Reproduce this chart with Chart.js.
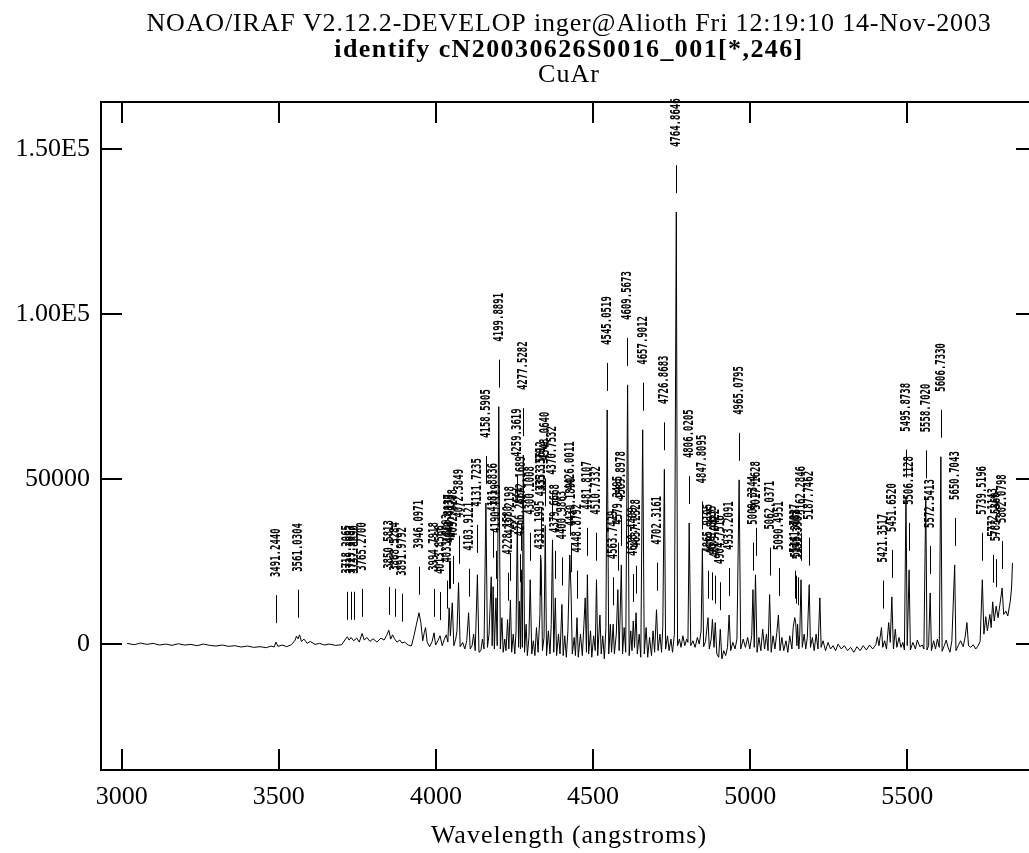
<!DOCTYPE html>
<html>
<head>
<meta charset="utf-8">
<script src="https://cdn.jsdelivr.net/npm/chart.js@4.4.0/dist/chart.umd.min.js"></script>
<style>
    html, body { margin: 0; padding: 0; background: #fff; overflow: hidden; }
</style>
</head>
<body>
<canvas id="spectrum" width="1040" height="853"></canvas>
<script>
// Header lines and axis label
const titleLines = [
    'NOAO/IRAF V2.12.2-DEVELOP inger@Alioth Fri 12:19:10 14-Nov-2003',
    'identify cN20030626S0016_001[*,246]',
    'CuAr'
];
const xLabel = 'Wavelength (angstroms)';

// Axis ranges and ticks
const xMin = 2934, xMax = 5913;
const yMin = -38200, yMax = 164400;
const xTicks = [3000, 3500, 4000, 4500, 5000, 5500];
const xTickLabels = ['3000', '3500', '4000', '4500', '5000', '5500'];
const yTicks = [0, 50000, 100000, 150000];
const yTickLabels = ['0', '50000', '1.00E5', '1.50E5'];

// Spectrum (wavelength in angstroms, counts)
const wave = [
    3017, 3040, 3060, 3080, 3100, 3120, 3140, 3160, 3180, 3200,
    3220, 3240, 3260, 3280, 3300, 3320, 3340, 3360, 3380, 3400,
    3420, 3440, 3460, 3475, 3485, 3491, 3497, 3510, 3525, 3540,
    3552, 3556, 3561, 3566, 3572, 3580, 3590, 3600, 3615, 3630,
    3645, 3660, 3680, 3700, 3712, 3718, 3724, 3730, 3738, 3748,
    3756, 3765, 3772, 3780, 3790, 3800, 3812, 3825, 3835, 3843,
    3850, 3856, 3862, 3868, 3876, 3885, 3892, 3900, 3912, 3922,
    3930, 3938, 3946, 3952, 3958, 3963, 3967, 3972, 3980, 3988,
    3994, 3999, 4006, 4013, 4020, 4027, 4033, 4038, 4042, 4046,
    4052, 4057, 4063, 4067, 4072, 4077, 4085, 4092, 4098, 4104,
    4109, 4115, 4120, 4125, 4132, 4137, 4143, 4148, 4153, 4159,
    4164, 4169, 4176, 4179, 4182, 4186, 4191, 4195, 4200, 4205,
    4210, 4214, 4219, 4223, 4228, 4232, 4237, 4241, 4246, 4251,
    4255, 4259, 4263, 4266, 4269, 4272, 4275, 4278, 4282, 4287,
    4291, 4296, 4300, 4305, 4310, 4315, 4320, 4325, 4331, 4333,
    4335, 4339, 4344, 4348, 4352, 4358, 4363, 4367, 4371, 4375,
    4380, 4384, 4390, 4395, 4401, 4405, 4410, 4415, 4420, 4426,
    4430, 4434, 4440, 4444, 4449, 4453, 4460, 4466, 4471, 4475,
    4479, 4482, 4486, 4492, 4496, 4502, 4507, 4511, 4515, 4522,
    4526, 4531, 4536, 4541, 4545, 4550, 4555, 4559, 4564, 4568,
    4574, 4579, 4583, 4586, 4590, 4594, 4599, 4604, 4610, 4615,
    4620, 4624, 4628, 4632, 4637, 4641, 4647, 4652, 4658, 4663,
    4669, 4674, 4680, 4686, 4691, 4696, 4702, 4707, 4713, 4718,
    4722, 4727, 4731, 4737, 4742, 4748, 4753, 4759, 4765, 4769,
    4775, 4780, 4786, 4792, 4798, 4802, 4806, 4811, 4818, 4825,
    4832, 4838, 4844, 4848, 4852, 4858, 4866, 4870, 4876, 4880,
    4885, 4889, 4894, 4900, 4905, 4910, 4916, 4922, 4928, 4933,
    4938, 4945, 4952, 4958, 4965, 4970, 4978, 4985, 4992, 4999,
    5005, 5009, 5013, 5017, 5022, 5028, 5034, 5040, 5046, 5052,
    5057, 5062, 5067, 5073, 5079, 5085, 5090, 5095, 5101, 5107,
    5114, 5120, 5126, 5133, 5137, 5142, 5145, 5149, 5151, 5155,
    5158, 5162, 5166, 5172, 5177, 5182, 5188, 5192, 5198, 5204,
    5210, 5216, 5222, 5226, 5232, 5240, 5248, 5256, 5264, 5272,
    5280, 5290, 5300, 5310, 5320, 5330, 5340, 5350, 5360, 5370,
    5380, 5390, 5400, 5405, 5410, 5418, 5422, 5428, 5434, 5441,
    5446, 5451, 5456, 5462, 5467, 5474, 5480, 5486, 5491, 5496,
    5500, 5506, 5510, 5518, 5526, 5532, 5540, 5548, 5553, 5559,
    5563, 5568, 5573, 5577, 5584, 5590, 5596, 5602, 5607, 5611,
    5618, 5624, 5630, 5636, 5642, 5651, 5655, 5662, 5670, 5678,
    5684, 5690, 5695, 5702, 5710, 5718, 5726, 5732, 5739, 5744,
    5750, 5755, 5763, 5767, 5772, 5777, 5783, 5789, 5795, 5802,
    5807, 5814, 5820, 5828, 5832, 5835
];
const flux = [
    200, -200, 300, -100, 200, -300, 0, -400, 100, -300,
    -100, -500, 0, -400, -600, -300, -700, -500, -900, -600,
    -1000, -800, -1100, -600, -900, 600, -700, -300, -800, -200,
    1200, 2400, 1600, 2800, 800, 1500, 200, 800, -100, 200,
    -300, 0, -400, -200, 1500, 2200, 1200, 2000, 1000, 1800,
    600, 3200, 1200, 2000, 800, 1600, 600, 1800, 1200, 2600,
    4200, 1500, 2800, 1600, 600, 1200, 300, 600, -300, -600,
    2500, 6000, 9500, 6500, 1000, 3500, 5000, 600, -800, 800,
    3400, -300, 1000, 2500, -500, 1500, 2800, 600, 11000, 2500,
    12500, -500, 1500, 4000, 18600, -800, 500, -1500, 1000, 9500,
    -1500, -500, 3000, -2000, 21000, -2500, -2000, 1500, -1500, 42800,
    -1000, 3000, 20400, -500, 17400, -1500, 14000, -500, 72000, -1500,
    8000, -2500, 1500, -2000, 7400, -1500, 13400, -2500, 3000, -3000,
    4000, 37000, -1000, 13000, -1500, 22500, -1000, 57300, -2500, 6000,
    -3500, 2000, 19500, -3000, 1000, -3500, 5000, -2500, 9000, 27000,
    25000, -2000, 2000, 36000, -3500, 4000, -3000, 6000, 31600, -2500,
    14000, -3500, 3000, -3000, 12000, -3500, 2500, -4000, 4000, 27000,
    16000, -3000, 2000, -3500, 8000, -4000, 3000, -3500, 6000, 14000,
    -2500, 21000, -3000, 4000, -4000, 2500, -2000, 19500, -3500, 8800,
    -3000, 2500, -4500, 5000, 71000, -3000, 6000, -2500, 6000, -3000,
    3000, 16500, -2000, 8000, 24000, -3000, 5000, -2500, 78600, -3500,
    4000, -2000, 7000, -1000, 9500, -3000, 3000, -4000, 65000, -3000,
    5000, -4000, 2000, -3500, 4000, -2500, 10400, -2000, 3000, -2500,
    5000, 53000, -1500, 2500, -2000, 1500, -2500, 3000, 131000, -500,
    1500, -1000, 2500, -500, 1500, 500, 36700, -500, 1000, -1000,
    2000, 0, 4000, 29000, -800, 800, 8000, -1500, 1500, 7500,
    -1000, 6500, -3000, -4000, 4500, -4500, -2000, -3500, -1000, 8800,
    -2000, 500, -1500, 1500, 49800, -1500, 1500, -1000, 2000, -1500,
    2500, 16500, -1000, 21000, -2500, 2000, -2000, 4500, -1500, 3000,
    -2000, 15000, -2500, 2500, -1500, 3500, 8800, -2000, 2000, -2000,
    1000, -2500, 2500, -1500, 5000, 8000, 6500, -500, 6000, -1500,
    3000, 19500, -1000, 3000, -1500, 2000, 18000, -1000, 2000, -2000,
    3000, -1500, 14000, -1000, 1000, -2000, 500, -1500, -500, -2000,
    0, -1500, -500, -2000, -1000, -2500, -800, -2000, -500, -1800,
    -300, -1500, -200, 2200, -500, 5000, -1000, 1000, -1500, 6500,
    500, 14300, -1500, 4500, -1000, 2000, -1000, 500, -1800, 44700,
    -500, 22500, -1800, 500, -1500, 1200, -800, -300, -1500, 44500,
    -1800, -500, 15500, -2000, 1000, -1500, 1500, -1000, 56800, -2200,
    -500, 1200, -1000, -2500, 1000, 24000, -2000, -500, 1000, -800,
    2000, 6500, -500, -1000, -200, -1500, -500, 800, 19500, 3000,
    8300, 4000, 9000, 5000, 12800, 7000, 11500, 8000, 12000, 17000,
    9000, 10000, 8500, 13000, 17000, 24600
];

// Identified lines: wavelength and the count level the marker sits on
const idWave = [
    3491.2440, 3561.0304, 3718.2065, 3729.3087, 3737.8890, 3765.2700, 3850.5813, 3868.5284, 3891.9792, 3946.0971,
    3994.7918, 4013.8566, 4033.8093, 4042.8937, 4044.4179, 4052.9208, 4072.3849, 4103.9121, 4131.7235, 4158.5905,
    4181.8836, 4190.7129, 4199.8891, 4228.1580, 4237.2198, 4259.3619, 4266.2864, 4272.1689, 4277.5282, 4300.1008,
    4331.1995, 4333.5612, 4335.3379, 4348.0640, 4370.7532, 4379.6668, 4400.9863, 4426.0011, 4430.1890, 4448.8792,
    4481.8107, 4510.7332, 4545.0519, 4563.7429, 4579.3495, 4589.8978, 4609.5673, 4628.4409, 4637.2328, 4657.9012,
    4702.3161, 4726.8683, 4764.8646, 4806.0205, 4847.8095, 4865.9105, 4879.8635, 4889.0422, 4904.7516, 4933.2091,
    4965.0795, 5009.3344, 5017.1628, 5062.0371, 5090.4951, 5141.7827, 5145.3083, 5151.3907, 5162.2846, 5187.7462,
    5421.3517, 5451.6520, 5495.8738, 5506.1128, 5558.7020, 5572.5413, 5606.7330, 5650.7043, 5739.5196, 5772.1143,
    5783.5360, 5802.0798
];
const idPeak = [
    600, 2200, 1600, 1600, 1600, 2500, 3100, 2500, 1000, 9200,
    2500, 1500, 5000, 11000, 11000, 12500, 18600, 8600, 21900, 42800,
    20400, 14000, 72000, 7400, 13400, 37000, 13000, 22500, 57300, 19500,
    9000, 27000, 25000, 36000, 31600, 14000, 12000, 27000, 16000, 8000,
    21000, 19500, 71000, 6000, 16500, 24000, 78600, 7000, 9500, 65000,
    10400, 53000, 131000, 36700, 29000, 8000, 7500, 6500, 4500, 8800,
    49800, 16500, 21000, 15000, 8800, 8000, 6500, 6000, 19500, 18000,
    5000, 14300, 44700, 22500, 44500, 15500, 56800, 24000, 19500, 12800,
    11500, 17000
];

const serif = '"Liberation Serif", "Times New Roman", serif';

const irafPlugin = {
    id: 'iraf',
    afterDraw(chart) {
        const { ctx, chartArea: a, scales: { x, y } } = chart;
        ctx.save();
        ctx.strokeStyle = '#000';
        ctx.fillStyle = '#000';

        // frame with inward ticks on all four sides
        ctx.lineWidth = 2;
        ctx.strokeRect(a.left, a.top, a.right - a.left, a.bottom - a.top);
        ctx.beginPath();
        xTicks.forEach(v => {
            const px = Math.round(x.getPixelForValue(v));
            ctx.moveTo(px, a.bottom); ctx.lineTo(px, a.bottom - 21);
            ctx.moveTo(px, a.top); ctx.lineTo(px, a.top + 21);
        });
        yTicks.forEach(v => {
            const py = Math.round(y.getPixelForValue(v));
            ctx.moveTo(a.left, py); ctx.lineTo(a.left + 21, py);
            ctx.moveTo(a.right, py); ctx.lineTo(a.right - 21, py);
        });
        ctx.stroke();

        // line identification markers and labels
        ctx.lineWidth = 1;
        ctx.font = 'bold 9px "DejaVu Sans Mono", monospace';
        ctx.textAlign = 'left';
        ctx.textBaseline = 'middle';
        idWave.forEach((w, i) => {
            const px = Math.round(x.getPixelForValue(w)) + 0.5;
            const py = y.getPixelForValue(idPeak[i]);
            ctx.beginPath();
            ctx.moveTo(px, py - 19);
            ctx.lineTo(px, py - 47);
            ctx.stroke();
            ctx.save();
            ctx.translate(px, py - 65);
            ctx.rotate(-Math.PI / 2);
            ctx.scale(1, 1.5);
            ctx.fillText(w.toFixed(4), 0, 0);
            ctx.restore();
        });

        // header and axis label
        const cx = (a.left + a.right) / 2;
        ctx.textAlign = 'center';
        ctx.textBaseline = 'alphabetic';
        ctx.font = '26px ' + serif;
        ctx.letterSpacing = '0.85px';
        ctx.fillText(titleLines[0], cx, 31);
        ctx.font = 'bold 26px ' + serif;
        ctx.letterSpacing = '1.4px';
        ctx.fillText(titleLines[1], cx, 57);
        ctx.font = '26px ' + serif;
        ctx.letterSpacing = '1px';
        ctx.fillText(titleLines[2], cx, 82);
        ctx.fillText(xLabel, cx, 843);
        ctx.restore();
    }
};

document.addEventListener('DOMContentLoaded', () => {
    const ctx = document.getElementById('spectrum').getContext('2d');
    const points = wave.map((w, i) => ({ x: w, y: flux[i] }));

    new Chart(ctx, {
        type: 'line',
        data: {
            datasets: [{
                data: points,
                borderColor: '#000',
                borderWidth: 1,
                pointRadius: 0,
                tension: 0,
                fill: false
            }]
        },
        options: {
            responsive: false,
            animation: false,
            layout: { padding: { top: 102, right: 3, left: 0, bottom: 0 } },
            plugins: {
                legend: { display: false },
                tooltip: { enabled: false },
                title: { display: false }
            },
            scales: {
                x: {
                    type: 'linear',
                    min: xMin,
                    max: xMax,
                    grid: { display: false, drawTicks: false },
                    border: { display: false },
                    afterBuildTicks: s => { s.ticks = xTicks.map(v => ({ value: v })); },
                    afterFit: s => { s.height = 83; },
                    ticks: {
                        autoSkip: false,
                        maxRotation: 0,
                        padding: 12,
                        color: '#000',
                        font: { family: serif, size: 26 },
                        callback: v => xTickLabels[xTicks.indexOf(v)]
                    }
                },
                y: {
                    type: 'linear',
                    min: yMin,
                    max: yMax,
                    grid: { display: false, drawTicks: false },
                    border: { display: false },
                    afterBuildTicks: s => { s.ticks = yTicks.map(v => ({ value: v })); },
                    afterFit: s => { s.width = 101; },
                    ticks: {
                        padding: 11,
                        color: '#000',
                        font: { family: serif, size: 26 },
                        callback: v => yTickLabels[yTicks.indexOf(v)]
                    }
                }
            }
        },
        plugins: [irafPlugin]
    });
});
</script>
</body>
</html>
